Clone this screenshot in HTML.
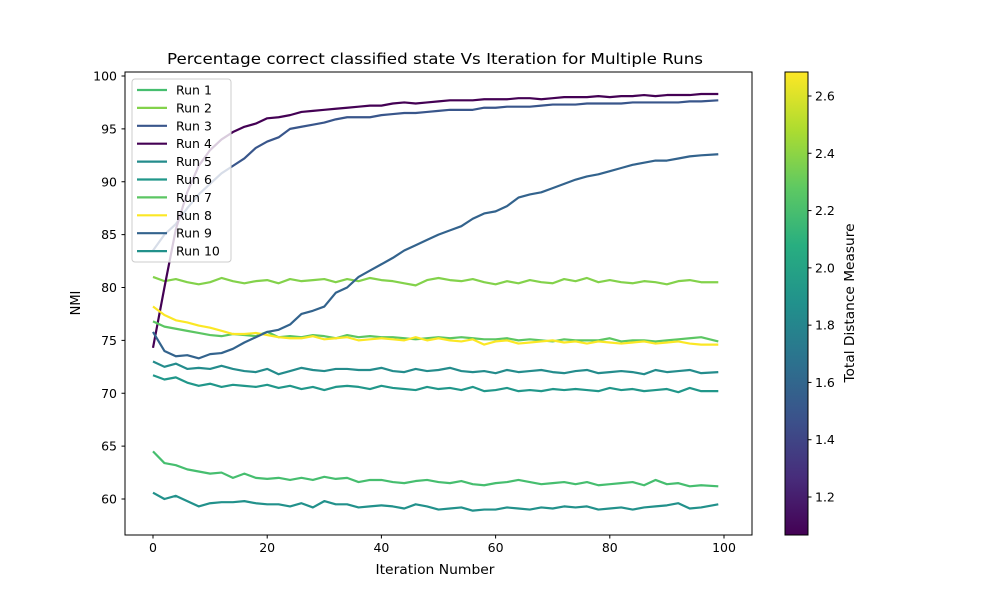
<!DOCTYPE html>
<html><head><meta charset="utf-8"><style>
body{margin:0;background:#fff;font-family:"Liberation Sans","DejaVu Sans",sans-serif}
svg text{font-family:"DejaVu Sans","Liberation Sans",sans-serif;fill:#000}
</style></head><body>
<svg id="chart" width="1000" height="600" xmlns="http://www.w3.org/2000/svg">
<defs><linearGradient id="vir" x1="0" y1="1" x2="0" y2="0">
<stop offset="0" stop-color="#440154"/><stop offset="0.125" stop-color="#472d7b"/><stop offset="0.25" stop-color="#3b528b"/><stop offset="0.375" stop-color="#2c728e"/><stop offset="0.5" stop-color="#21918c"/><stop offset="0.625" stop-color="#28ae80"/><stop offset="0.75" stop-color="#5ec962"/><stop offset="0.875" stop-color="#addc30"/><stop offset="1" stop-color="#fde725"/></linearGradient></defs>
<text x="435" y="64" font-size="15.5" text-anchor="middle" textLength="536" lengthAdjust="spacingAndGlyphs">Percentage correct classified state Vs Iteration for Multiple Runs</text>
<g id="plot"></g>
<rect x="125" y="72" width="627" height="463" fill="none" stroke="#000" stroke-width="1"/>
<text x="435" y="574" font-size="13" text-anchor="middle" textLength="119" lengthAdjust="spacingAndGlyphs">Iteration Number</text>
<text transform="translate(80,303) rotate(-90)" font-size="13" text-anchor="middle">NMI</text>
<g id="legend"></g>
<rect x="785" y="72" width="23" height="463" fill="url(#vir)" stroke="#000" stroke-width="1"/>
<g id="cbticks"></g>
<text transform="translate(854,303) rotate(-90)" font-size="13" text-anchor="middle" textLength="159" lengthAdjust="spacingAndGlyphs">Total Distance Measure</text>
</svg>
<script>
const iterations=[0,2,4,6,8,10,12,14,16,18,20,22,24,26,28,30,32,34,36,38,40,42,44,46,48,50,52,54,56,58,60,62,64,66,68,70,72,74,76,78,80,82,84,86,88,90,92,94,96,99];
const runNames=["Run 1","Run 2","Run 3","Run 4","Run 5","Run 6","Run 7","Run 8","Run 9","Run 10"];
const runDistances=[2.2,2.38,1.5,1.07,1.85,1.92,2.27,2.68,1.58,1.88];
const run1=[64.5,63.4,63.2,62.8,62.6,62.4,62.5,62,62.4,62,61.9,62,61.8,62,61.8,62.1,61.9,62,61.6,61.8,61.8,61.6,61.5,61.7,61.8,61.6,61.5,61.7,61.4,61.3,61.5,61.6,61.8,61.6,61.4,61.5,61.6,61.4,61.6,61.3,61.4,61.5,61.6,61.3,61.8,61.4,61.5,61.2,61.3,61.2];
const run2=[81,80.6,80.8,80.5,80.3,80.5,80.9,80.6,80.4,80.6,80.7,80.4,80.8,80.6,80.7,80.8,80.5,80.8,80.6,80.9,80.7,80.6,80.4,80.2,80.7,80.9,80.7,80.6,80.8,80.5,80.3,80.6,80.4,80.7,80.5,80.4,80.8,80.6,80.9,80.5,80.7,80.5,80.4,80.6,80.5,80.3,80.6,80.7,80.5,80.5];
const run3=[83.5,85,86,87.5,88.8,89.8,90.8,91.5,92.2,93.2,93.8,94.2,95,95.2,95.4,95.6,95.9,96.1,96.1,96.1,96.3,96.4,96.5,96.5,96.6,96.7,96.8,96.8,96.8,97,97,97.1,97.1,97.1,97.2,97.3,97.3,97.3,97.4,97.4,97.4,97.4,97.5,97.5,97.5,97.5,97.5,97.6,97.6,97.7];
const run4=[74.3,80,85.5,89,91.5,93,94,94.7,95.2,95.5,96,96.1,96.3,96.6,96.7,96.8,96.9,97,97.1,97.2,97.2,97.4,97.5,97.4,97.5,97.6,97.7,97.7,97.7,97.8,97.8,97.8,97.9,97.9,97.8,97.9,98,98,98,98.1,98,98.1,98.1,98.2,98.1,98.2,98.2,98.2,98.3,98.3];
const run5=[73,72.5,72.8,72.3,72.4,72.3,72.6,72.3,72.1,72,72.3,71.8,72.1,72.4,72.2,72.1,72.3,72.3,72.2,72.2,72.4,72.1,72,72.3,72.1,72.2,72.4,72.1,72,72.1,71.9,72.2,72,72.1,72.2,72,71.9,72.1,72.2,71.9,72,72.1,72,71.8,72.2,72,72.1,72.2,71.9,72];
const run6=[71.7,71.3,71.5,71,70.7,70.9,70.6,70.8,70.7,70.6,70.8,70.5,70.7,70.4,70.6,70.3,70.6,70.7,70.6,70.4,70.7,70.5,70.4,70.3,70.6,70.4,70.5,70.3,70.6,70.2,70.3,70.5,70.2,70.3,70.2,70.4,70.3,70.4,70.3,70.2,70.5,70.3,70.4,70.2,70.3,70.4,70.1,70.5,70.2,70.2];
const run7=[76.8,76.3,76.1,75.9,75.7,75.5,75.4,75.6,75.5,75.4,75.8,75.3,75.4,75.3,75.5,75.4,75.2,75.5,75.3,75.4,75.3,75.3,75.2,75.1,75.2,75.3,75.2,75.3,75.2,75.1,75.1,75.2,75,75.1,75,74.9,75.1,75,75,75,75.2,74.9,75,75,74.9,75,75.1,75.2,75.3,74.9];
const run8=[78.2,77.4,76.9,76.7,76.4,76.2,75.9,75.6,75.6,75.7,75.5,75.3,75.2,75.2,75.4,75.1,75.2,75.3,75,75.1,75.2,75.1,75,75.3,75,75.2,75,74.9,75.1,74.6,74.9,75,74.7,74.8,74.9,75,74.8,74.9,74.7,74.9,74.8,74.7,74.8,74.9,74.7,74.8,74.9,74.7,74.6,74.6];
const run9=[75.8,74,73.5,73.6,73.3,73.7,73.8,74.2,74.8,75.3,75.8,76,76.5,77.5,77.8,78.2,79.5,80,81,81.6,82.2,82.8,83.5,84,84.5,85,85.4,85.8,86.5,87,87.2,87.7,88.5,88.8,89,89.4,89.8,90.2,90.5,90.7,91,91.3,91.6,91.8,92,92,92.2,92.4,92.5,92.6];
const run10=[60.6,60,60.3,59.8,59.3,59.6,59.7,59.7,59.8,59.6,59.5,59.5,59.3,59.6,59.2,59.8,59.5,59.5,59.2,59.3,59.4,59.3,59.1,59.5,59.3,59,59.1,59.2,58.9,59,59,59.2,59.1,59,59.2,59.1,59.3,59.2,59.3,59,59.1,59.2,59,59.2,59.3,59.4,59.6,59.1,59.2,59.5];
const xTicks=[0,20,40,60,80,100];
const yTicks=[60,65,70,75,80,85,90,95,100];
const cbTicks=[1.2,1.4,1.6,1.8,2.0,2.2,2.4,2.6];
const series=[run1,run2,run3,run4,run5,run6,run7,run8,run9,run10];
const NS="http://www.w3.org/2000/svg";
const xs=v=>153+(v-0)*(724-153)/100;
const ys=v=>499-(v-60)*(499-76)/40;
const cs=v=>497-(v-1.2)*(497-96)/1.4;
const cbMin=1.068,cbMax=2.684;
const vir=[[68,1,84],[72,40,120],[62,73,137],[49,104,142],[38,130,142],[31,158,137],[53,183,121],[109,205,89],[180,222,44],[253,231,37]];
function color(d){let t=Math.max(0,Math.min(1,(d-cbMin)/(cbMax-cbMin)))*(vir.length-1);let i=Math.min(vir.length-2,Math.floor(t)),f=t-i;const c=vir[i].map((a,k)=>Math.round(a+(vir[i+1][k]-a)*f));return`rgb(${c})`;}
function mk(tag,attrs,parent){const e=document.createElementNS(NS,tag);for(const k in attrs)e.setAttribute(k,attrs[k]);parent.appendChild(e);return e;}
const svg=document.getElementById('chart'),plot=document.getElementById('plot');
xTicks.forEach(v=>{const x=xs(v);
const t=mk('line',{x1:x,x2:x,y1:535,y2:538.5,stroke:'#000'},svg);


const l=mk('text',{x:x,y:552,'font-size':12.5,'text-anchor':'middle'},svg);l.textContent=v;

});
yTicks.forEach(v=>{const y=ys(v);
const t=mk('line',{x1:121.5,x2:125,y1:y,y2:y,stroke:'#000'},svg);


const l=mk('text',{x:117,y:y+4.5,'font-size':12.5,'text-anchor':'end'},svg);l.textContent=v;

});
series.forEach((s,i)=>{const p=mk('polyline',{points:s.map((v,j)=>xs(iterations[j])+','+ys(v)).join(' '),fill:'none',stroke:color(runDistances[i]),'stroke-width':2.2,'stroke-linejoin':'round'},plot);

});
const lg=document.getElementById('legend');
const box=mk('rect',{x:132,y:79,width:99,height:183,rx:3,fill:'#fff','fill-opacity':0.8,stroke:'#ccc'},lg);


runNames.forEach((n,i)=>{const y=90+i*17.9;
const ln=mk('line',{x1:137,x2:167,y1:y,y2:y,stroke:color(runDistances[i]),'stroke-width':2.2},lg);


const t=mk('text',{x:176,y:y+4.5,'font-size':12.5},lg);t.textContent=n;

});
const cb=document.getElementById('cbticks');
cbTicks.forEach(v=>{const y=cs(v);
const t=mk('line',{x1:808,x2:811.5,y1:y,y2:y,stroke:'#000'},cb);


const l=mk('text',{x:815,y:y+4.5,'font-size':12.5},cb);l.textContent=v.toFixed(1);

});
</script>
</body></html>
